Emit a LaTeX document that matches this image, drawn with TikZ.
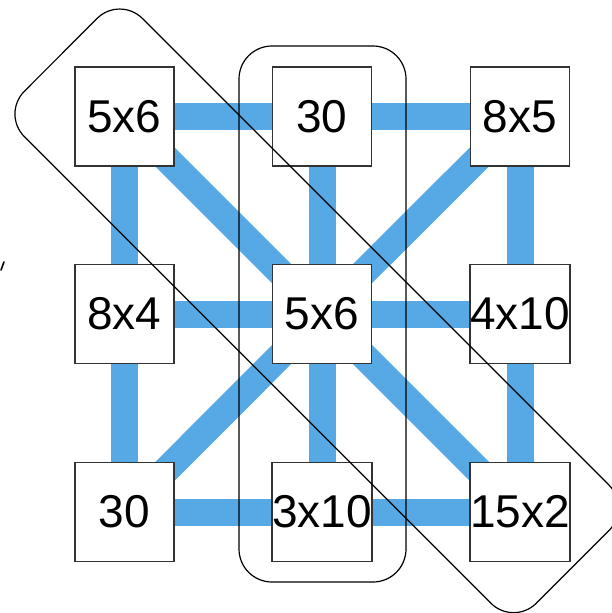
\documentclass[tikz,border=0pt]{standalone}
\usepackage{fontspec}
\setmainfont{Liberation Sans}
\usetikzlibrary{backgrounds}
\definecolor{linkblue}{HTML}{56A9E4}
\definecolor{boxline}{HTML}{333333}
\tikzset{
  cell/.style={draw=boxline, line width=1.4pt, fill=white, minimum size=99pt, inner sep=0pt,
    font=\fontsize{46}{55}\selectfont},
  link/.style={draw=linkblue, line width=27pt},
  group/.style={draw=black, line width=1.2pt, rounded corners=32pt}
}
\begin{document}
\begin{tikzpicture}[x=1pt,y=-1pt]
\useasboundingbox (0,0) rectangle (612,613);
\clip (0,0) rectangle (612,613);
\node[cell] (a) at (124.5,116.5) {5x6};
\node[cell] (b) at (322,116.5) {30};
\node[cell] (c) at (520,116.5) {8x5};
\node[cell] (d) at (124.5,314) {8x4};
\node[cell] (e) at (322,314) {5x6};
\node[cell] (f) at (520,314) {4x10};
\node[cell] (g) at (124.5,512) {30};
\node[cell] (h) at (322,512) {3x10};
\node[cell] (i) at (520,512) {15x2};
\begin{scope}[on background layer]
  \draw[link] (a.center) -- (b.center) -- (c.center);
  \draw[link] (d.center) -- (e.center) -- (f.center);
  \draw[link] (g.center) -- (h.center) -- (i.center);
  \draw[link] (a.center) -- (d.center) -- (g.center);
  \draw[link] (b.center) -- (e.center) -- (h.center);
  \draw[link] (c.center) -- (f.center) -- (i.center);
  \draw[link] (a.center) -- (e.center) -- (i.center);
  \draw[link] (c.center) -- (e.center) -- (g.center);
\end{scope}
% vertical group
\draw[group, rounded corners=33pt] (239,46) rectangle (406,582);
% diagonal group
\draw[group] (119.7,-4.2) -- (631.7,507.8) -- (513.6,625.9) -- (1.7,114) -- cycle;
% stray stroke at left edge
\draw[line width=1.6pt, line cap=round] (1,270) -- (4,262);
\end{tikzpicture}
\end{document}
